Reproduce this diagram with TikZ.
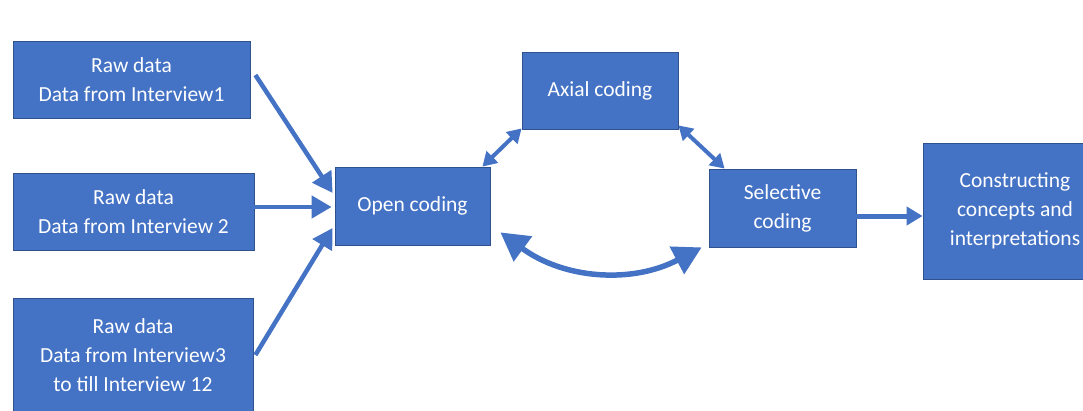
\documentclass[tikz,border=0pt]{standalone}
\usepackage{fontspec}
\setmainfont{Carlito}
\usetikzlibrary{positioning, arrows.meta}

\definecolor{boxblue}{HTML}{4472C4}
\definecolor{edgeblue}{HTML}{2F528F}

\begin{document}
\begin{tikzpicture}[x=1pt, y=1pt,
		stage/.style={draw=edgeblue, line width=0.8pt, fill=boxblue, text=white, align=center,
			inner sep=0pt, font=\fontsize{21.5}{29}\selectfont},
		flow/.style={draw=boxblue, line width=4.5pt, -{Triangle[length=20pt, width=22pt]}},
		link/.style={draw=boxblue, line width=4pt, {Triangle[length=14pt, width=16pt]}-{Triangle[length=14pt, width=16pt]}},
		swing/.style={draw=boxblue, line width=5.5pt, {Triangle[length=28pt, width=30pt]}-{Triangle[length=28pt, width=30pt]}}]
	\useasboundingbox (0,0) rectangle (1083,410);

	% sources
	\node[stage, minimum width=237pt, minimum height=77pt] (raw1) at (131.5,330.5) {Raw data\\Data from Interview1};
	\node[stage, minimum width=241pt, minimum height=77pt] (raw2) at (133.5,198.5) {Raw data\\Data from Interview 2};
	\node[stage, minimum width=240pt, minimum height=114pt] (raw3) at (133,55) {Raw data\\Data from Interview3\\to till Interview 12};

	% coding stages
	\node[stage, minimum width=155pt, minimum height=78pt] (open) at (412.5,204) {Open coding};
	\node[stage, minimum width=156pt, minimum height=77pt] (axial) at (600,319.5) {Axial coding};
	\node[stage, minimum width=147pt, minimum height=78pt] (sel) at (782.5,202) {Selective\\coding};
	\node[stage, minimum width=184pt, minimum height=136pt] (cons) at (1015,199) {Constructing\\concepts and\\interpretations};

	\draw[flow] ([shift={(5,4.5)}]raw1.east) -- ([shift={(-2,13)}]open.west);
	\draw[flow] ([yshift=4.5]raw2.east) -- ([shift={(-3,-1)}]open.west);
	\draw[flow] ([xshift=2]raw3.east) -- ([shift={(-2,-22)}]open.west);

	\draw[link] ([xshift=-8]open.north east) -- ([yshift=1]axial.south west);
	\draw[link] ([yshift=4]axial.south east) -- ([xshift=16]sel.north west);
	\draw[swing] ([shift={(10,13)}]open.south east) to[bend right=32] ([xshift=-7]sel.south west);

	\draw[flow, line width=5pt, -{Triangle[length=16pt, width=18pt]}] ([yshift=-8]sel.east) -- ([yshift=-8]sel.east -| cons.west);
\end{tikzpicture}
\end{document}
